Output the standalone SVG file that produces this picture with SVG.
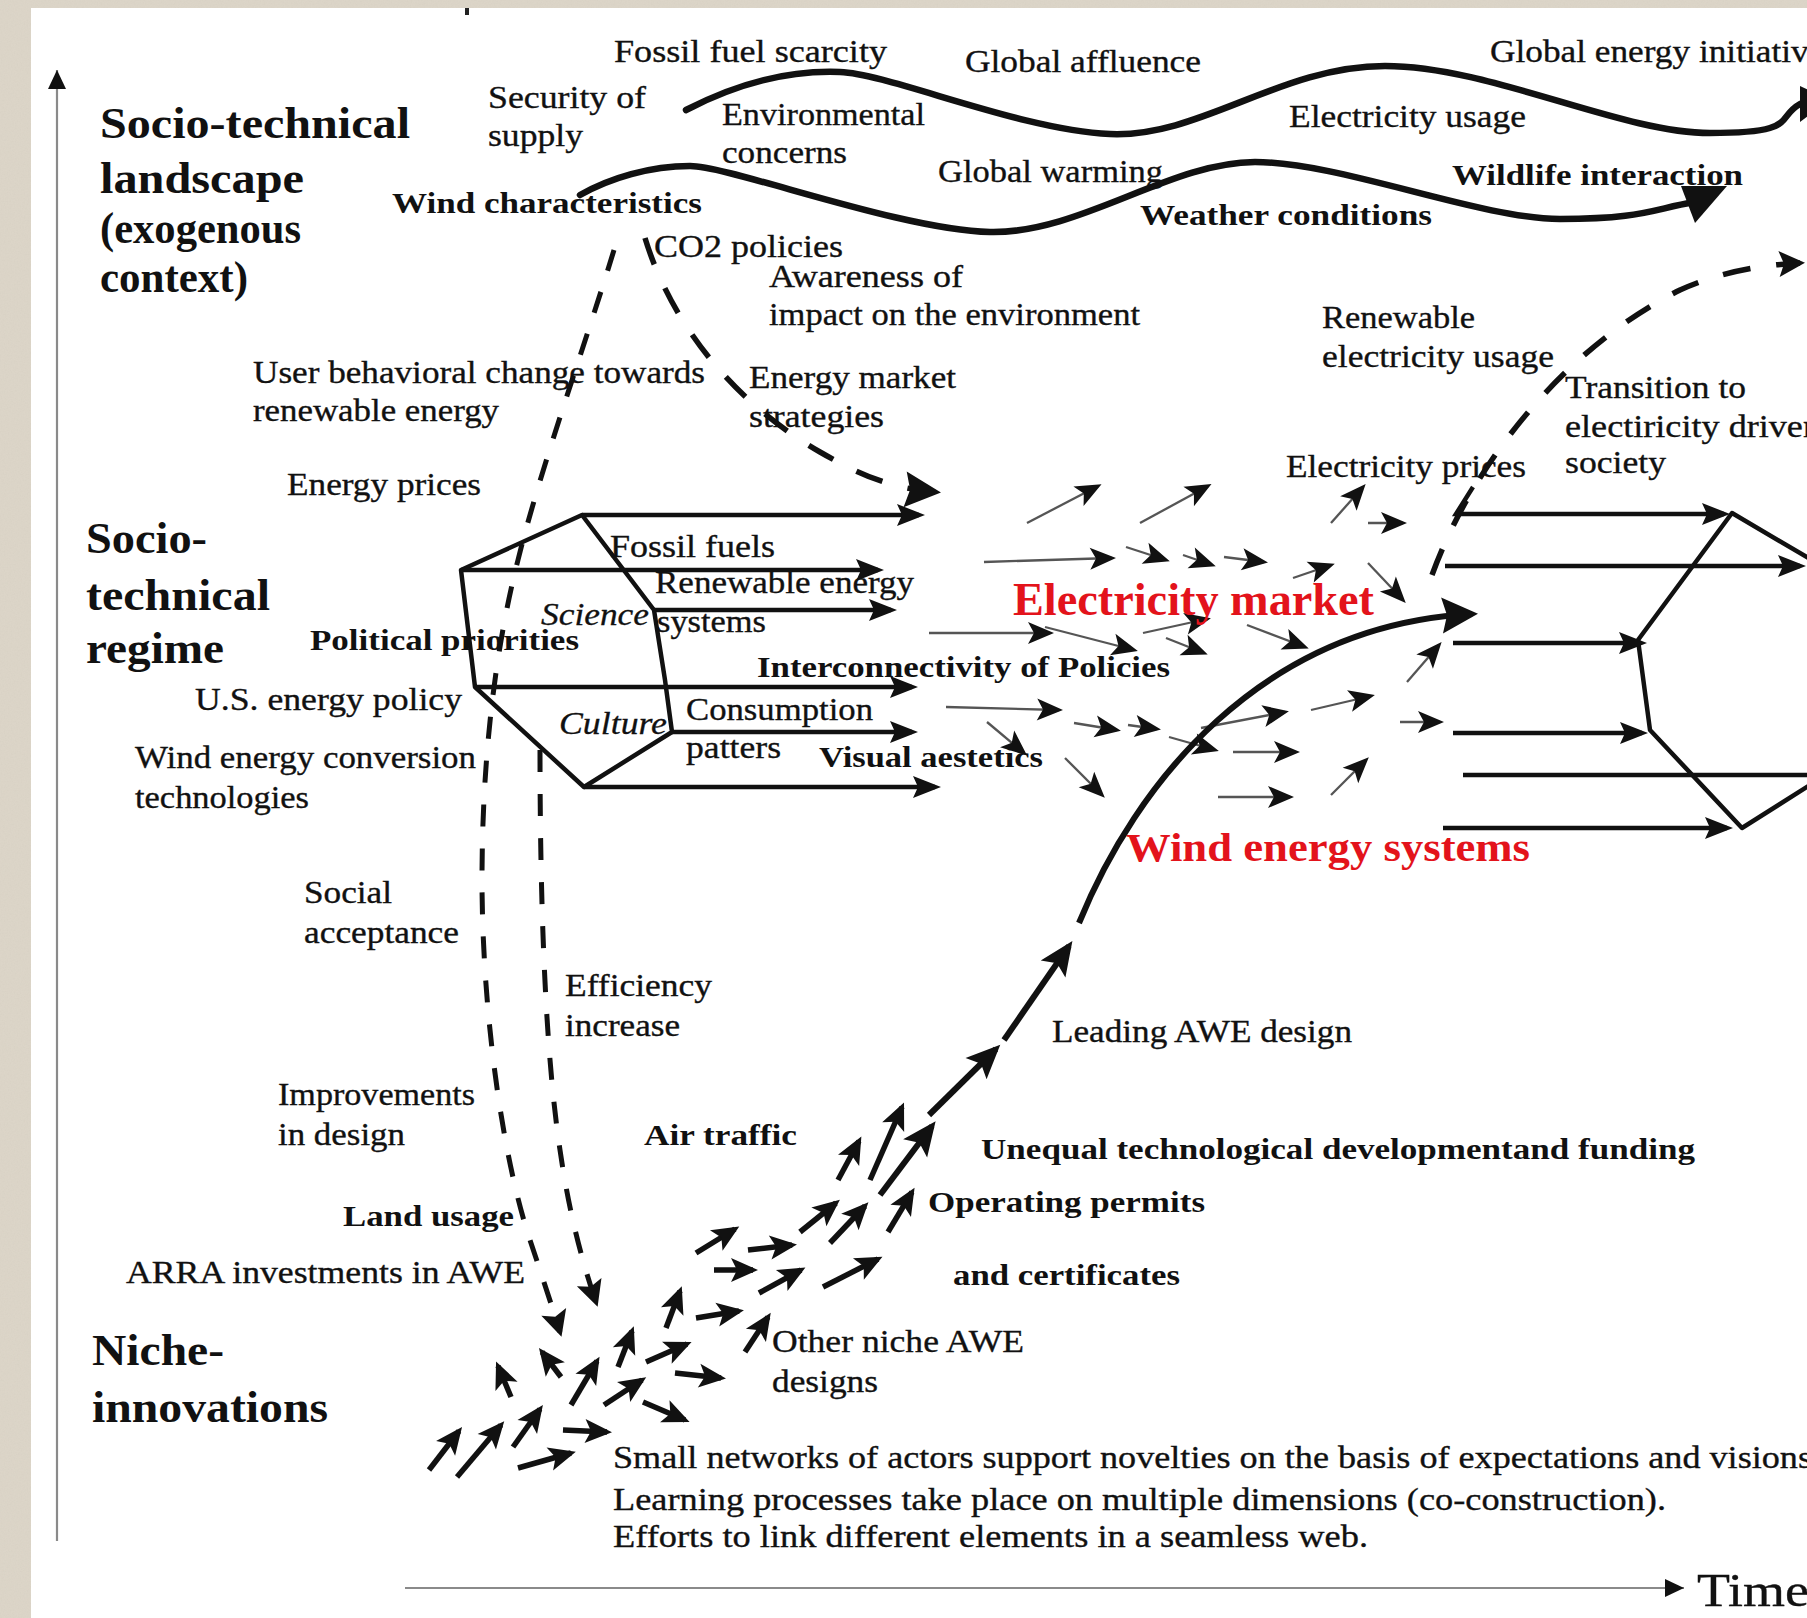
<svg xmlns="http://www.w3.org/2000/svg" width="1807" height="1618" viewBox="0 0 1807 1618">
<style>
text{font-family:"Liberation Serif","Times New Roman",serif;fill:#111}
.t{font-family:"Liberation Serif",serif;font-size:32px;stroke:#111;stroke-width:0.35}
.b{font-family:"Liberation Serif",serif;font-size:30px;font-weight:bold}
.h{font-family:"Liberation Serif",serif;font-size:45px;font-weight:bold}
.i{font-family:"Liberation Serif",serif;font-size:32px;font-style:italic;stroke:#111;stroke-width:0.3}
.r{fill:#e3131b;font-weight:bold}
.reg{fill:none;stroke:#111;stroke-width:4.5;marker-end:url(#mR)}
.edge{fill:none;stroke:#111;stroke-width:4.5;stroke-linejoin:round}
.thin{fill:none;stroke:#555;stroke-width:2.3;marker-end:url(#mT)}
.nic{fill:none;stroke:#111;stroke-width:5.5;marker-end:url(#mN)}
.chain{fill:none;stroke:#111;stroke-width:6;marker-end:url(#mL)}
.wave{fill:none;stroke:#111;stroke-width:6.5;stroke-linecap:round}
.dash{fill:none;stroke:#111;stroke-width:5;stroke-dasharray:22 22}
.dash2{fill:none;stroke:#111;stroke-width:5.5;stroke-dasharray:28 26}
.axis{fill:none;stroke:#8a8a8a;stroke-width:2.2;marker-end:url(#mA)}
</style>
<defs>
<filter id="noise" x="0" y="0" width="100%" height="100%"><feTurbulence type="fractalNoise" baseFrequency="0.7" numOctaves="2" seed="4"/><feColorMatrix type="matrix" values="0 0 0 0 0.62  0 0 0 0 0.58  0 0 0 0 0.5  0.9 0 0 0 -0.3"/></filter>
<marker id="mR" markerUnits="userSpaceOnUse" orient="auto" overflow="visible" markerWidth="10" markerHeight="10"><path d="M6,0 L-22,-11 L-17,0 L-22,11Z" fill="#111"/></marker>
<marker id="mT" markerUnits="userSpaceOnUse" orient="auto" overflow="visible" markerWidth="10" markerHeight="10"><path d="M4,0 L-22,-11 L-16,0 L-22,11Z" fill="#111"/></marker>
<marker id="mN" markerUnits="userSpaceOnUse" orient="auto" overflow="visible" markerWidth="10" markerHeight="10"><path d="M5,0 L-22,-12 L-16,0 L-22,12Z" fill="#111"/></marker>
<marker id="mL" markerUnits="userSpaceOnUse" orient="auto" overflow="visible" markerWidth="10" markerHeight="10"><path d="M6,0 L-28,-15 L-21,0 L-28,15Z" fill="#111"/></marker>
<marker id="mC" markerUnits="userSpaceOnUse" orient="auto" overflow="visible" markerWidth="10" markerHeight="10"><path d="M6,0 L-30,-18 L-25,0 L-30,18Z" fill="#111"/></marker>
<marker id="mD" markerUnits="userSpaceOnUse" orient="auto" overflow="visible" markerWidth="10" markerHeight="10"><path d="M5,0 L-21,-13 L-16,0 L-21,13Z" fill="#111"/></marker>
<marker id="mA" markerUnits="userSpaceOnUse" orient="auto" overflow="visible" markerWidth="10" markerHeight="10"><path d="M0,0 L-19,-9 L-19,9Z" fill="#111"/></marker>
</defs>

<g id="background">
<rect x="0" y="0" width="1807" height="1618" fill="#dcd5c8"/>
<rect x="0" y="0" width="1807" height="1618" filter="url(#noise)" opacity="0.5"/>
<rect x="31" y="8" width="1776" height="1610" fill="#ffffff"/>
<rect x="465" y="8" width="4" height="7" fill="#222"/>
</g>

<g id="axes">
<path class="axis" d="M57,1541 L57,70"/>
<path class="axis" d="M405,1588 L1684,1588"/>
</g>

<g id="connectors">
<!-- landscape waves -->
<path class="wave" d="M686,110 C740,82 790,70 840,72 S1020,130 1110,134 S1280,66 1385,66 S1620,133 1710,133 S1775,118 1800,104"/>
<polygon points="1800,86 1800,122 1830,100" fill="#111"/>
<path class="wave" d="M580,195 C610,178 650,166 690,166 S900,230 990,232 S1170,162 1255,162 S1480,219 1560,219 S1650,210 1694,202"/>
<polygon points="1681,186 1727,186 1695,223" fill="#111"/>

<!-- dashed influence lines -->
<path class="dash" d="M614,250 C585,345 540,470 518,560 C495,650 482,760 482,880 C482,1000 500,1150 530,1240 C540,1270 550,1300 560,1332" marker-end="url(#mD)"/>
<path class="dash" d="M540,750 C540,900 545,1050 560,1150 C570,1220 585,1270 596,1302" marker-end="url(#mD)"/>
<path class="dash2" d="M645,238 C670,320 730,400 820,452 C860,475 890,488 935,492" marker-end="url(#mC)"/>
<path class="dash2" d="M1432,575 C1470,470 1560,350 1680,290 C1720,272 1760,265 1800,263" marker-end="url(#mD)"/>

<!-- regime (left) -->
<path class="edge" d="M461,570 L582,515 L654,610 L665,680 L672,732 L584,787 L475,687 Z"/>
<path class="reg" d="M582,515 L919,515"/>
<path class="reg" d="M461,570 L878,570"/>
<path class="reg" d="M654,610 L891,610"/>
<path class="reg" d="M475,687 L912,687"/>
<path class="reg" d="M672,732 L912,732"/>
<path class="reg" d="M584,787 L935,787"/>

<!-- regime (right) -->
<path class="edge" d="M1810,559 L1732,513 L1638,640 L1650,730 L1742,828 L1810,785"/>
<path class="reg" d="M1473,487 L1456,514 L1724,514"/>
<path class="reg" d="M1445,566 L1800,566"/>
<path class="reg" d="M1453,643 L1641,643"/>
<path class="reg" d="M1453,733 L1642,733"/>
<path class="edge" d="M1463,775 L1810,775"/>
<path class="reg" d="M1443,828 L1727,828"/>

<!-- thin arrows field -->
<path class="thin" d="M1027,523 L1098,486"/>
<path class="thin" d="M1140,523 L1208,486"/>
<path class="thin" d="M1331,523 L1363,487"/>
<path class="thin" d="M1368,523 L1403,523"/>
<path class="thin" d="M984,562 L1112,558"/>
<path class="thin" d="M1126,547 L1166,560"/>
<path class="thin" d="M1183,555 L1212,565"/>
<path class="thin" d="M1224,557 L1264,562"/>
<path class="thin" d="M1293,578 L1331,565"/>
<path class="thin" d="M1368,563 L1403,600"/>
<path class="thin" d="M929,633 L1050,633"/>
<path class="thin" d="M1045,627 L1134,650"/>
<path class="thin" d="M1143,633 L1207,619"/>
<path class="thin" d="M1166,638 L1204,653"/>
<path class="thin" d="M1247,625 L1305,647"/>
<path class="thin" d="M1407,682 L1439,645"/>
<path class="thin" d="M946,707 L1059,710"/>
<path class="thin" d="M987,722 L1024,753"/>
<path class="thin" d="M1074,723 L1117,730"/>
<path class="thin" d="M1128,725 L1157,729"/>
<path class="thin" d="M1169,737 L1215,750"/>
<path class="thin" d="M1201,728 L1285,712"/>
<path class="thin" d="M1311,710 L1371,696"/>
<path class="thin" d="M1400,722 L1440,722"/>
<path class="thin" d="M1233,752 L1296,752"/>
<path class="thin" d="M1065,758 L1102,795"/>
<path class="thin" d="M1218,797 L1290,797"/>
<path class="thin" d="M1331,795 L1366,760"/>

<!-- wind energy S-curve -->
<path d="M1079,923 C1135,785 1260,625 1472,614" fill="none" stroke="#111" stroke-width="6" marker-end="url(#mC)"/>

<!-- leading AWE design chain -->
<path class="chain" d="M880,1195 L932,1126"/>
<path class="chain" d="M929,1115 L996,1049"/>
<path class="chain" d="M1004,1040 L1069,946"/>

<!-- niche arrows -->
<path class="nic" d="M429,1470 L459,1431"/>
<path class="nic" d="M457,1477 L501,1425"/>
<path class="nic" d="M513,1447 L540,1409"/>
<path class="nic" d="M518,1468 L571,1453"/>
<path class="nic" d="M563,1430 L607,1432"/>
<path class="nic" d="M511,1397 L498,1366"/>
<path class="nic" d="M561,1377 L542,1352"/>
<path class="nic" d="M571,1405 L597,1361"/>
<path class="nic" d="M604,1405 L642,1380"/>
<path class="nic" d="M618,1367 L632,1331"/>
<path class="nic" d="M643,1402 L685,1420"/>
<path class="nic" d="M646,1362 L687,1344"/>
<path class="nic" d="M675,1373 L721,1378"/>
<path class="nic" d="M666,1328 L680,1291"/>
<path class="nic" d="M696,1318 L739,1311"/>
<path class="nic" d="M745,1352 L768,1317"/>
<path class="nic" d="M714,1270 L753,1270"/>
<path class="nic" d="M759,1293 L801,1270"/>
<path class="nic" d="M696,1253 L735,1229"/>
<path class="nic" d="M748,1250 L792,1245"/>
<path class="nic" d="M800,1232 L836,1203"/>
<path class="nic" d="M823,1287 L878,1259"/>
<path class="nic" d="M830,1243 L865,1206"/>
<path class="nic" d="M888,1232 L912,1192"/>
<path class="nic" d="M838,1180 L859,1141"/>
<path class="nic" d="M870,1180 L902,1107"/>
</g>

<g id="landscape-labels">
<g id="n-landscape"><text class="h" x="100" y="138" textLength="310" lengthAdjust="spacingAndGlyphs">Socio-technical</text><text class="h" x="100" y="193" textLength="204" lengthAdjust="spacingAndGlyphs">landscape</text><text class="h" x="100" y="243" textLength="201" lengthAdjust="spacingAndGlyphs">(exogenous</text><text class="h" x="100" y="292" textLength="148" lengthAdjust="spacingAndGlyphs">context)</text></g>
<g id="n-fossil-scarcity"><text class="t" x="614" y="62" textLength="273" lengthAdjust="spacingAndGlyphs">Fossil fuel scarcity</text></g>
<g id="n-security"><text class="t" x="488" y="108" textLength="158" lengthAdjust="spacingAndGlyphs">Security of</text><text class="t" x="488" y="146" textLength="95" lengthAdjust="spacingAndGlyphs">supply</text></g>
<g id="n-affluence"><text class="t" x="965" y="72" textLength="236" lengthAdjust="spacingAndGlyphs">Global affluence</text></g>
<g id="n-initiatives"><text class="t" x="1490" y="62" textLength="348" lengthAdjust="spacingAndGlyphs">Global energy initiatives</text></g>
<g id="n-environmental"><text class="t" x="722" y="125" textLength="203" lengthAdjust="spacingAndGlyphs">Environmental</text><text class="t" x="722" y="163" textLength="125" lengthAdjust="spacingAndGlyphs">concerns</text></g>
<g id="n-elec-usage"><text class="t" x="1289" y="127" textLength="237" lengthAdjust="spacingAndGlyphs">Electricity usage</text></g>
<g id="n-warming"><text class="t" x="938" y="182" textLength="225" lengthAdjust="spacingAndGlyphs">Global warming</text></g>
<g id="n-wildlife"><text class="b" x="1452" y="185" textLength="291" lengthAdjust="spacingAndGlyphs">Wildlife interaction</text></g>
<g id="n-weather"><text class="b" x="1140" y="225" textLength="292" lengthAdjust="spacingAndGlyphs">Weather conditions</text></g>
<g id="n-wind-char"><text class="b" x="392" y="213" textLength="310" lengthAdjust="spacingAndGlyphs">Wind characteristics</text></g>
<g id="n-co2"><text class="t" x="654" y="257" textLength="189" lengthAdjust="spacingAndGlyphs">CO2 policies</text></g>
<g id="n-awareness"><text class="t" x="769" y="287" textLength="194" lengthAdjust="spacingAndGlyphs">Awareness of</text><text class="t" x="769" y="325" textLength="371" lengthAdjust="spacingAndGlyphs">impact on the environment</text></g>
<g id="n-user"><text class="t" x="253" y="383" textLength="452" lengthAdjust="spacingAndGlyphs">User behavioral change towards</text><text class="t" x="253" y="421" textLength="246" lengthAdjust="spacingAndGlyphs">renewable energy</text></g>
<g id="n-market-strat"><text class="t" x="749" y="388" textLength="207" lengthAdjust="spacingAndGlyphs">Energy market</text><text class="t" x="749" y="427" textLength="135" lengthAdjust="spacingAndGlyphs">strategies</text></g>
<g id="n-ren-usage"><text class="t" x="1322" y="328" textLength="153" lengthAdjust="spacingAndGlyphs">Renewable</text><text class="t" x="1322" y="367" textLength="232" lengthAdjust="spacingAndGlyphs">electricity usage</text></g>
<g id="n-transition"><text class="t" x="1565" y="398" textLength="181" lengthAdjust="spacingAndGlyphs">Transition to</text><text class="t" x="1565" y="437" textLength="256" lengthAdjust="spacingAndGlyphs">electiricity driven</text><text class="t" x="1565" y="473" textLength="101" lengthAdjust="spacingAndGlyphs">society</text></g>
<g id="n-elec-prices"><text class="t" x="1286" y="477" textLength="240" lengthAdjust="spacingAndGlyphs">Electricity prices</text></g>
<g id="n-energy-prices"><text class="t" x="287" y="495" textLength="194" lengthAdjust="spacingAndGlyphs">Energy prices</text></g>
</g>

<g id="regime-labels">
<g id="n-regime"><text class="h" x="86" y="553" textLength="121" lengthAdjust="spacingAndGlyphs">Socio-</text><text class="h" x="86" y="610" textLength="184" lengthAdjust="spacingAndGlyphs">technical</text><text class="h" x="86" y="663" textLength="138" lengthAdjust="spacingAndGlyphs">regime</text></g>
<g id="n-political"><text class="b" x="310" y="650" textLength="269" lengthAdjust="spacingAndGlyphs">Political priorities</text></g>
<g id="n-us-policy"><text class="t" x="195" y="710" textLength="267" lengthAdjust="spacingAndGlyphs">U.S. energy policy</text></g>
<g id="n-conversion"><text class="t" x="135" y="768" textLength="341" lengthAdjust="spacingAndGlyphs">Wind energy conversion</text><text class="t" x="135" y="808" textLength="174" lengthAdjust="spacingAndGlyphs">technologies</text></g>
<g id="n-science"><text class="i" x="541" y="625" textLength="108" lengthAdjust="spacingAndGlyphs">Science</text></g>
<g id="n-culture"><text class="i" x="559" y="734" textLength="108" lengthAdjust="spacingAndGlyphs">Culture</text></g>
<g id="n-fossil-fuels"><text class="t" x="610" y="557" textLength="165" lengthAdjust="spacingAndGlyphs">Fossil fuels</text></g>
<g id="n-renewable"><text class="t" x="655" y="593" textLength="259" lengthAdjust="spacingAndGlyphs">Renewable energy</text><text class="t" x="657" y="632" textLength="109" lengthAdjust="spacingAndGlyphs">systems</text></g>
<g id="n-interconn"><text class="b" x="757" y="677" textLength="413" lengthAdjust="spacingAndGlyphs">Interconnectivity of Policies</text></g>
<g id="n-consumption"><text class="t" x="686" y="720" textLength="187" lengthAdjust="spacingAndGlyphs">Consumption</text><text class="t" x="686" y="758" textLength="95" lengthAdjust="spacingAndGlyphs">patters</text></g>
<g id="n-visual"><text class="b" x="819" y="767" textLength="224" lengthAdjust="spacingAndGlyphs">Visual aestetics</text></g>
<g id="n-elec-market"><text class="b r" x="1013" y="615" font-size="46" style="font-size:46px" textLength="361" lengthAdjust="spacingAndGlyphs">Electricity market</text></g>
<g id="n-wind-systems"><text class="b r" x="1126" y="861" style="font-size:41px" textLength="404" lengthAdjust="spacingAndGlyphs">Wind energy systems</text></g>
<g id="n-social"><text class="t" x="304" y="903" textLength="88" lengthAdjust="spacingAndGlyphs">Social</text><text class="t" x="304" y="943" textLength="155" lengthAdjust="spacingAndGlyphs">acceptance</text></g>
</g>

<g id="niche-labels">
<g id="n-efficiency"><text class="t" x="565" y="996" textLength="147" lengthAdjust="spacingAndGlyphs">Efficiency</text><text class="t" x="565" y="1036" textLength="115" lengthAdjust="spacingAndGlyphs">increase</text></g>
<g id="n-leading"><text class="t" x="1052" y="1042" textLength="300" lengthAdjust="spacingAndGlyphs">Leading AWE design</text></g>
<g id="n-improvements"><text class="t" x="278" y="1105" textLength="197" lengthAdjust="spacingAndGlyphs">Improvements</text><text class="t" x="278" y="1145" textLength="127" lengthAdjust="spacingAndGlyphs">in design</text></g>
<g id="n-air"><text class="b" x="644" y="1145" textLength="153" lengthAdjust="spacingAndGlyphs">Air traffic</text></g>
<g id="n-unequal"><text class="b" x="981" y="1159" textLength="714" lengthAdjust="spacingAndGlyphs">Unequal technological developmentand funding</text></g>
<g id="n-permits"><text class="b" x="928" y="1212" textLength="277" lengthAdjust="spacingAndGlyphs">Operating permits</text><text class="b" x="953" y="1285" textLength="227" lengthAdjust="spacingAndGlyphs">and certificates</text></g>
<g id="n-land"><text class="b" x="343" y="1226" textLength="171" lengthAdjust="spacingAndGlyphs">Land usage</text></g>
<g id="n-arra"><text class="t" x="126" y="1283" textLength="399" lengthAdjust="spacingAndGlyphs">ARRA investments in AWE</text></g>
<g id="n-niche"><text class="h" x="92" y="1365" textLength="132" lengthAdjust="spacingAndGlyphs">Niche-</text><text class="h" x="92" y="1422" textLength="236" lengthAdjust="spacingAndGlyphs">innovations</text></g>
<g id="n-other"><text class="t" x="772" y="1352" textLength="252" lengthAdjust="spacingAndGlyphs">Other niche AWE</text><text class="t" x="772" y="1392" textLength="106" lengthAdjust="spacingAndGlyphs">designs</text></g>
<g id="n-notes"><text class="t" x="613" y="1468" textLength="1199" lengthAdjust="spacingAndGlyphs">Small networks of actors support novelties on the basis of expectations and visions</text><text class="t" x="613" y="1510" textLength="1053" lengthAdjust="spacingAndGlyphs">Learning processes take place on multiple dimensions (co-construction).</text><text class="t" x="613" y="1547" textLength="755" lengthAdjust="spacingAndGlyphs">Efforts to link different elements in a seamless web.</text></g>
<g id="n-time"><text class="t" x="1697" y="1606" style="font-size:47px" textLength="112" lengthAdjust="spacingAndGlyphs">Time</text></g>
</g>
</svg>
